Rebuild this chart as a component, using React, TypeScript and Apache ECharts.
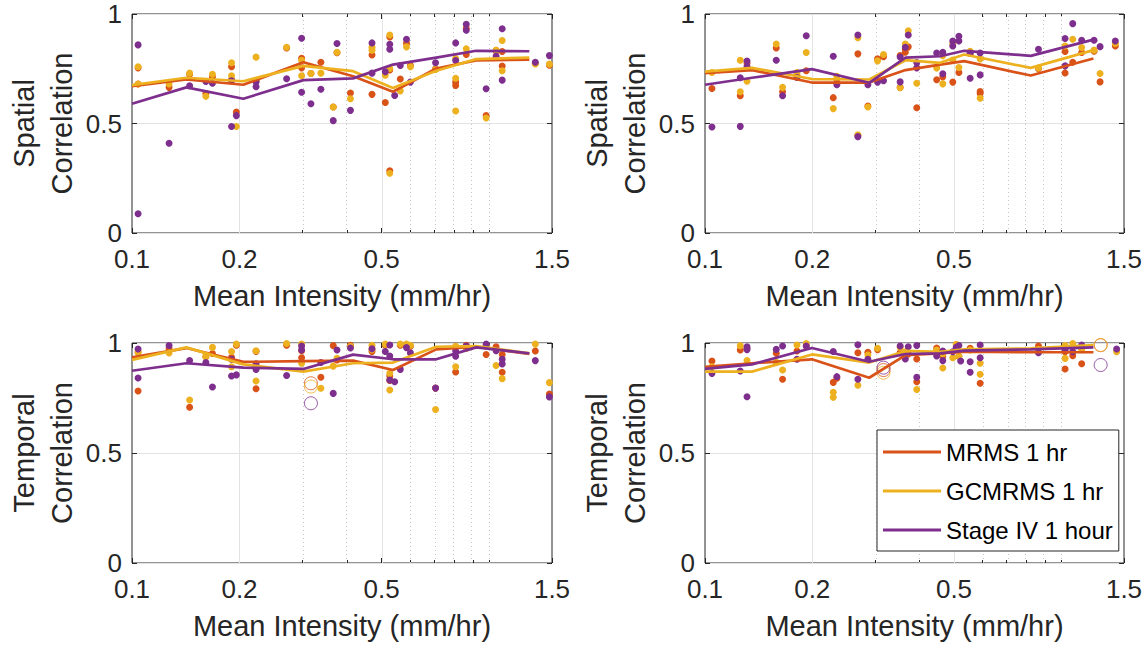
import React, { useEffect, useRef } from 'react';
import * as echarts from 'echarts';

type Pt = [number, number];

// ---------- ticks / labels ----------
const X_MIN = 0.1;
const X_MAX = 1.5;
const xMajorTicks = [0.1, 0.2, 0.5, 1.5];
const xMinorTicks = [0.3, 0.4, 0.6, 0.7, 0.8, 0.9, 1.0];
const xGridMajor = [0.2, 0.5];
const yInterval = 0.5;
const seriesNames = ['MRMS 1 hr', 'GCMRMS 1 hr', 'Stage IV 1 hour'];
const seriesColors = ['#D95319', '#EDB120', '#7E2F8E'];
const xTitle = 'Mean Intensity (mm/hr)';
const yTitleSpatial = 'Spatial\nCorrelation';
const yTitleTemporal = 'Temporal\nCorrelation';

// ---------- line (binned) x positions ----------
const lineXLeft = [0.1, 0.142, 0.205, 0.302, 0.416, 0.538, 0.711, 0.92, 1.296];
const lineXRight = [0.1, 0.1355, 0.1996, 0.289, 0.3654, 0.457, 0.534, 0.821, 1.231];

// ---------- top-left: spatial ----------
const tlMRMS: Pt[] = [[0.104,0.754],[0.104,0.68],[0.127,0.665],[0.145,0.725],[0.161,0.637],[0.168,0.713],[0.19,0.759],[0.19,0.70],[0.196,0.552],[0.2225,0.695],[0.271,0.845],[0.2985,0.798],[0.2985,0.754],[0.317,0.728],[0.338,0.78],[0.366,0.575],[0.375,0.823],[0.409,0.639],[0.47,0.813],[0.47,0.633],[0.512,0.596],[0.527,0.895],[0.527,0.744],[0.527,0.284],[0.564,0.703],[0.587,0.867],[0.602,0.765],[0.708,0.75],[0.806,0.689],[0.806,0.674],[0.863,0.935],[0.863,0.815],[0.981,0.536],[1.046,0.83],[1.088,0.829],[1.088,0.762],[1.347,0.775],[1.475,0.766]];
const tlGC: Pt[] = [[0.104,0.759],[0.104,0.68],[0.127,0.68],[0.145,0.73],[0.161,0.624],[0.168,0.725],[0.19,0.777],[0.19,0.718],[0.196,0.486],[0.2225,0.803],[0.2225,0.695],[0.271,0.848],[0.2985,0.789],[0.2985,0.718],[0.317,0.728],[0.338,0.73],[0.366,0.575],[0.375,0.825],[0.409,0.613],[0.47,0.848],[0.47,0.835],[0.512,0.72],[0.527,0.904],[0.527,0.751],[0.527,0.273],[0.564,0.649],[0.587,0.85],[0.602,0.759],[0.708,0.747],[0.806,0.797],[0.806,0.707],[0.806,0.557],[0.863,0.841],[0.981,0.525],[1.046,0.835],[1.088,0.879],[1.088,0.741],[1.347,0.772],[1.475,0.771]];
const tlS4: Pt[] = [[0.104,0.859],[0.104,0.088],[0.127,0.41],[0.145,0.672],[0.161,0.692],[0.168,0.684],[0.19,0.695],[0.19,0.486],[0.196,0.536],[0.2225,0.689],[0.2225,0.668],[0.271,0.704],[0.2985,0.889],[0.2985,0.643],[0.317,0.59],[0.338,0.656],[0.366,0.513],[0.375,0.865],[0.409,0.56],[0.47,0.868],[0.47,0.73],[0.512,0.736],[0.527,0.862],[0.527,0.839],[0.544,0.628],[0.564,0.765],[0.587,0.885],[0.602,0.689],[0.708,0.777],[0.806,0.868],[0.806,0.788],[0.863,0.953],[0.863,0.926],[0.981,0.659],[1.046,0.807],[1.088,0.933],[1.088,0.698],[1.347,0.78],[1.475,0.81]];
const tlMRMSLine = [0.671, 0.701, 0.677, 0.780, 0.716, 0.645, 0.751, 0.788, 0.792];
const tlGCLine = [0.675, 0.709, 0.693, 0.763, 0.739, 0.662, 0.741, 0.794, 0.801];
const tlS4Line = [0.590, 0.665, 0.613, 0.698, 0.706, 0.769, 0.801, 0.832, 0.830];

// ---------- top-right: spatial ----------
const trMRMS: Pt[] = [[0.1046,0.66],[0.1256,0.627],[0.1312,0.775],[0.1585,0.845],[0.1651,0.645],[0.1812,0.72],[0.1924,0.741],[0.2291,0.618],[0.2345,0.70],[0.2686,0.818],[0.2686,0.445],[0.2865,0.58],[0.305,0.795],[0.317,0.805],[0.353,0.81],[0.353,0.665],[0.365,0.84],[0.365,0.825],[0.372,0.85],[0.393,0.572],[0.447,0.70],[0.465,0.713],[0.496,0.689],[0.516,0.733],[0.555,0.82],[0.592,0.646],[0.592,0.637],[0.863,0.75],[1.025,0.829],[1.025,0.731],[1.077,0.78],[1.141,0.824],[1.236,0.83],[1.285,0.69],[1.418,0.854]];
const trGC: Pt[] = [[0.1046,0.733],[0.1256,0.789],[0.1256,0.645],[0.1312,0.693],[0.1585,0.863],[0.1651,0.665],[0.1812,0.733],[0.1924,0.824],[0.2291,0.568],[0.2345,0.716],[0.2686,0.892],[0.2686,0.449],[0.2865,0.575],[0.305,0.786],[0.317,0.815],[0.353,0.663],[0.365,0.863],[0.372,0.923],[0.393,0.684],[0.447,0.753],[0.465,0.81],[0.465,0.681],[0.496,0.865],[0.496,0.79],[0.516,0.756],[0.555,0.83],[0.592,0.795],[0.592,0.615],[0.863,0.753],[1.025,0.854],[1.077,0.885],[1.141,0.847],[1.236,0.835],[1.285,0.728],[1.418,0.865]];
const trS4: Pt[] = [[0.1046,0.484],[0.1256,0.709],[0.1256,0.487],[0.1312,0.785],[0.1312,0.76],[0.1585,0.789],[0.1651,0.627],[0.1812,0.71],[0.1924,0.901],[0.2291,0.807],[0.2345,0.677],[0.2686,0.904],[0.2686,0.44],[0.2865,0.677],[0.305,0.689],[0.317,0.695],[0.353,0.804],[0.353,0.69],[0.365,0.848],[0.372,0.904],[0.393,0.778],[0.393,0.754],[0.447,0.822],[0.465,0.825],[0.465,0.727],[0.496,0.877],[0.496,0.854],[0.516,0.898],[0.516,0.877],[0.555,0.822],[0.555,0.707],[0.592,0.822],[0.592,0.722],[0.863,0.839],[1.025,0.888],[1.025,0.763],[1.077,0.956],[1.141,0.88],[1.236,0.88],[1.285,0.851],[1.418,0.877]];
const trMRMSLine = [0.730, 0.744, 0.687, 0.687, 0.744, 0.769, 0.785, 0.719, 0.797];
const trGCLine = [0.737, 0.754, 0.703, 0.701, 0.789, 0.777, 0.815, 0.754, 0.835];
const trS4Line = [0.677, 0.709, 0.748, 0.686, 0.801, 0.807, 0.832, 0.809, 0.883];

// ---------- bottom-left: temporal ----------
const blMRMS: Pt[] = [[0.104,0.958],[0.104,0.782],[0.127,0.975],[0.145,0.708],[0.161,0.938],[0.168,0.952],[0.19,0.935],[0.196,0.99],[0.2225,0.962],[0.2225,0.792],[0.271,0.99],[0.2985,0.965],[0.2985,0.933],[0.338,0.844],[0.366,0.988],[0.375,0.923],[0.409,0.99],[0.47,0.961],[0.512,0.99],[0.527,0.85],[0.527,0.83],[0.564,0.99],[0.587,0.99],[0.602,0.985],[0.708,0.795],[0.806,0.868],[0.863,0.99],[0.981,0.948],[1.046,0.983],[1.088,0.948],[1.088,0.867],[1.347,0.964],[1.475,0.768]];
const blGC: Pt[] = [[0.104,0.958],[0.127,0.955],[0.145,0.741],[0.161,0.938],[0.168,0.98],[0.19,0.961],[0.19,0.892],[0.196,0.995],[0.2225,0.965],[0.2225,0.827],[0.271,0.998],[0.2985,0.995],[0.2985,0.908],[0.338,0.794],[0.366,0.895],[0.375,0.93],[0.409,0.985],[0.47,0.99],[0.47,0.97],[0.512,0.995],[0.527,0.862],[0.527,0.786],[0.564,0.995],[0.587,0.995],[0.602,0.99],[0.708,0.698],[0.806,0.892],[0.806,0.985],[0.863,0.975],[0.981,0.99],[1.046,0.898],[1.088,0.838],[1.347,0.995],[1.475,0.82]];
const blS4: Pt[] = [[0.104,0.973],[0.104,0.841],[0.127,0.989],[0.145,0.92],[0.161,0.911],[0.168,0.80],[0.19,0.926],[0.19,0.85],[0.196,0.855],[0.2225,0.905],[0.2225,0.88],[0.271,0.852],[0.2985,0.968],[0.2985,0.986],[0.338,0.911],[0.366,0.771],[0.375,0.968],[0.409,0.977],[0.47,0.974],[0.512,0.961],[0.527,0.991],[0.527,0.941],[0.527,0.832],[0.544,0.824],[0.564,0.88],[0.587,0.979],[0.602,0.955],[0.708,0.795],[0.806,0.964],[0.806,0.94],[0.863,0.986],[0.981,0.995],[1.046,0.965],[1.088,0.926],[1.088,0.905],[1.347,0.92],[1.475,0.755]];
const blMRMSRing: Pt[] = [[0.317, 0.817]];
const blGCRing: Pt[] = [[0.317, 0.802]];
const blS4Ring: Pt[] = [[0.317, 0.726]];
const blMRMSLine = [0.935, 0.977, 0.914, 0.918, 0.920, 0.877, 0.971, 0.983, 0.950];
const blGCLine = [0.923, 0.980, 0.903, 0.870, 0.908, 0.911, 0.983, 0.986, 0.953];
const blS4Line = [0.874, 0.908, 0.888, 0.882, 0.947, 0.926, 0.926, 0.980, 0.953];

// ---------- bottom-right: temporal ----------
const brMRMS: Pt[] = [[0.1046,0.918],[0.1256,0.968],[0.1312,0.975],[0.1585,0.953],[0.1651,0.835],[0.1812,0.964],[0.1924,0.985],[0.2291,0.821],[0.2345,0.84],[0.2686,0.956],[0.2865,0.958],[0.305,0.97],[0.353,0.956],[0.365,0.953],[0.372,0.95],[0.393,0.927],[0.393,0.824],[0.447,0.977],[0.465,0.94],[0.516,0.94],[0.555,0.976],[0.592,0.817],[0.863,0.986],[1.025,0.96],[1.025,0.882],[1.077,0.942],[1.141,0.906]];
const brGC: Pt[] = [[0.1046,0.892],[0.1256,0.988],[0.1312,0.92],[0.1585,0.912],[0.1651,0.877],[0.1812,0.991],[0.1924,0.998],[0.2291,0.776],[0.2291,0.753],[0.2686,0.808],[0.2865,0.945],[0.305,0.976],[0.353,0.98],[0.365,0.96],[0.393,0.789],[0.447,0.968],[0.465,0.95],[0.465,0.886],[0.496,0.933],[0.507,0.994],[0.516,0.94],[0.555,0.968],[0.592,0.908],[0.592,0.858],[0.863,0.97],[1.025,0.989],[1.025,0.93],[1.077,0.998],[1.141,0.97],[1.43,0.96]];
const brS4: Pt[] = [[0.1046,0.862],[0.1256,0.873],[0.1312,0.983],[0.1312,0.97],[0.1312,0.756],[0.1585,0.971],[0.1651,0.986],[0.1812,0.926],[0.1924,0.986],[0.2291,0.961],[0.2345,0.847],[0.2686,0.992],[0.2686,0.835],[0.2865,0.926],[0.353,0.986],[0.365,0.927],[0.372,0.983],[0.393,0.989],[0.393,0.844],[0.447,0.941],[0.465,0.964],[0.465,0.92],[0.496,0.96],[0.507,0.98],[0.516,0.989],[0.522,0.918],[0.555,0.915],[0.555,0.867],[0.592,0.991],[0.592,0.933],[0.863,0.956],[1.025,0.97],[1.077,0.96],[1.141,0.991],[1.43,0.973]];
const brMRMSRing: Pt[] = [[0.317, 0.877], [1.29, 0.99]];
const brGCRing: Pt[] = [[0.317, 0.865], [1.29, 0.991]];
const brS4Ring: Pt[] = [[0.317, 0.888], [1.29, 0.90]];
const brMRMSLine = [0.892, 0.908, 0.926, 0.842, 0.945, 0.953, 0.961, 0.958, 0.958];
const brGCLine = [0.870, 0.870, 0.948, 0.911, 0.964, 0.960, 0.971, 0.976, 0.991];
const brS4Line = [0.882, 0.903, 0.977, 0.915, 0.950, 0.953, 0.965, 0.971, 0.980];

const FONT = "'Liberation Sans', Arial, Helvetica, sans-serif";
const AXIS_COLOR = '#262626';

const panels = [
  { rect: { left: 132, top: 14, width: 420, height: 219 }, yName: yTitleSpatial, pts: [tlMRMS, tlGC, tlS4], rings: [[], [], []] as Pt[][], lineX: lineXLeft, lines: [tlMRMSLine, tlGCLine, tlS4Line] },
  { rect: { left: 705, top: 14, width: 419, height: 219 }, yName: yTitleSpatial, pts: [trMRMS, trGC, trS4], rings: [[], [], []] as Pt[][], lineX: lineXRight, lines: [trMRMSLine, trGCLine, trS4Line] },
  { rect: { left: 132, top: 343, width: 420, height: 220 }, yName: yTitleTemporal, pts: [blMRMS, blGC, blS4], rings: [blMRMSRing, blGCRing, blS4Ring], lineX: lineXLeft, lines: [blMRMSLine, blGCLine, blS4Line] },
  { rect: { left: 705, top: 343, width: 419, height: 220 }, yName: yTitleTemporal, pts: [brMRMS, brGC, brS4], rings: [brMRMSRing, brGCRing, brS4Ring], lineX: lineXRight, lines: [brMRMSLine, brGCLine, brS4Line] },
];

function buildOption() {
  const L = (v: number) => Math.log10(v);
  const grids: any[] = [];
  const xAxes: any[] = [];
  const yAxes: any[] = [];
  const series: any[] = [];
  const majorLog = xMajorTicks.map(L);
  const minorLog = xMinorTicks.map(L);
  const fmt = (v: number) => String(parseFloat(Math.pow(10, v).toPrecision(2)));

  panels.forEach((p, i) => {
    grids.push({ ...p.rect, show: true, borderColor: AXIS_COLOR, borderWidth: 1, backgroundColor: '#ffffff', containLabel: false });
    const baseX = {
      type: 'value', gridIndex: i, min: L(X_MIN), max: L(X_MAX),
      axisLine: { show: false, onZero: false }, splitLine: { show: false },
    };
    const majorTick = { show: true, inside: true, length: 5, customValues: majorLog, lineStyle: { color: AXIS_COLOR, width: 1 } };
    const minorTick = { show: true, inside: true, length: 3, customValues: minorLog, lineStyle: { color: AXIS_COLOR, width: 1 } };
    xAxes.push({
      ...baseX, position: 'bottom', axisTick: majorTick,
      axisLabel: { show: true, customValues: majorLog, formatter: fmt, fontSize: 26, color: AXIS_COLOR, margin: 13, fontFamily: FONT },
      name: xTitle, nameLocation: 'middle', nameGap: 48,
      nameTextStyle: { fontSize: 29, color: AXIS_COLOR, fontFamily: FONT },
    });
    xAxes.push({ ...baseX, position: 'bottom', axisTick: minorTick, axisLabel: { show: false } });
    xAxes.push({ ...baseX, position: 'top', axisTick: majorTick, axisLabel: { show: false } });
    xAxes.push({ ...baseX, position: 'top', axisTick: minorTick, axisLabel: { show: false } });

    const baseY = {
      type: 'value', gridIndex: i, min: 0, max: 1, interval: yInterval,
      axisLine: { show: false, onZero: false },
      axisTick: { show: true, inside: true, length: 5, lineStyle: { color: AXIS_COLOR, width: 1 } },
    };
    yAxes.push({
      ...baseY, position: 'left',
      axisLabel: { show: true, fontSize: 26, color: AXIS_COLOR, margin: 10, fontFamily: FONT },
      splitLine: { show: true, lineStyle: { color: '#e3e3e3', width: 1 } },
      name: p.yName, nameLocation: 'middle', nameGap: 51,
      nameTextStyle: { fontSize: 29, lineHeight: 38, color: AXIS_COLOR, fontFamily: FONT },
    });
    yAxes.push({ ...baseY, position: 'right', axisLabel: { show: false }, splitLine: { show: false } });

    const xi = 4 * i;
    const yi = 2 * i;
    // grid lines (drawn through the axes' scale)
    series.push({
      type: 'line', name: 'grid', xAxisIndex: xi, yAxisIndex: yi, data: [], silent: true, z: 1,
      markLine: {
        silent: true, symbol: 'none', label: { show: false }, z: 1,
        data: [
          ...xGridMajor.map((v) => ({ xAxis: L(v), lineStyle: { type: 'solid', color: '#e3e3e3', width: 1 } })),
          ...xMinorTicks.map((v) => ({ xAxis: L(v), lineStyle: { type: [1, 3], color: '#c4c4c4', width: 1 } })),
        ],
      },
    });
    for (let k = 0; k < 3; k++) {
      series.push({
        type: 'scatter', name: seriesNames[k] + ' events', xAxisIndex: xi, yAxisIndex: yi,
        data: p.pts[k].map(([x, y]) => [L(x), y]), symbolSize: 7,
        itemStyle: { color: seriesColors[k], opacity: 1 }, z: 3, silent: true,
      });
    }
    for (let k = 0; k < 3; k++) {
      if (!p.rings[k].length) continue;
      series.push({
        type: 'scatter', name: seriesNames[k] + ' all', xAxisIndex: xi, yAxisIndex: yi,
        data: p.rings[k].map(([x, y]) => [L(x), y]), symbol: 'circle', symbolSize: 13,
        itemStyle: { color: 'rgba(0,0,0,0)', borderColor: seriesColors[k], borderWidth: 1 }, z: 3, silent: true,
      });
    }
    for (let k = 0; k < 3; k++) {
      series.push({
        type: 'line', name: seriesNames[k], xAxisIndex: xi, yAxisIndex: yi,
        data: p.lineX.map((x, j) => [L(x), p.lines[k][j]]),
        symbol: 'none', showSymbol: false,
        lineStyle: { color: seriesColors[k], width: 2.7 }, itemStyle: { color: seriesColors[k] }, z: 4, silent: true,
      });
    }
  });

  return {
    animation: false,
    backgroundColor: '#ffffff',
    textStyle: { fontFamily: FONT },
    grid: grids,
    xAxis: xAxes,
    yAxis: yAxes,
    legend: {
      data: seriesNames, orient: 'vertical', left: 877, top: 430,
      icon: 'rect', itemWidth: 58, itemHeight: 3, itemGap: 15,
      textStyle: { fontSize: 24, color: '#000000', fontFamily: FONT, lineHeight: 24 },
      borderColor: AXIS_COLOR, borderWidth: 1, backgroundColor: '#ffffff',
      padding: [10, 6, 9, 6], selectedMode: false,
    },
    series,
  };
}

export default function App() {
  const ref = useRef<HTMLDivElement>(null);
  useEffect(() => {
    if (!ref.current) return;
    const chart = echarts.init(ref.current, undefined, { renderer: 'svg' });
    chart.setOption(buildOption() as any);
    return () => chart.dispose();
  }, []);
  return <div ref={ref} style={{ position: 'absolute', left: 0, top: 0, width: 1147, height: 649 }} />;
}
